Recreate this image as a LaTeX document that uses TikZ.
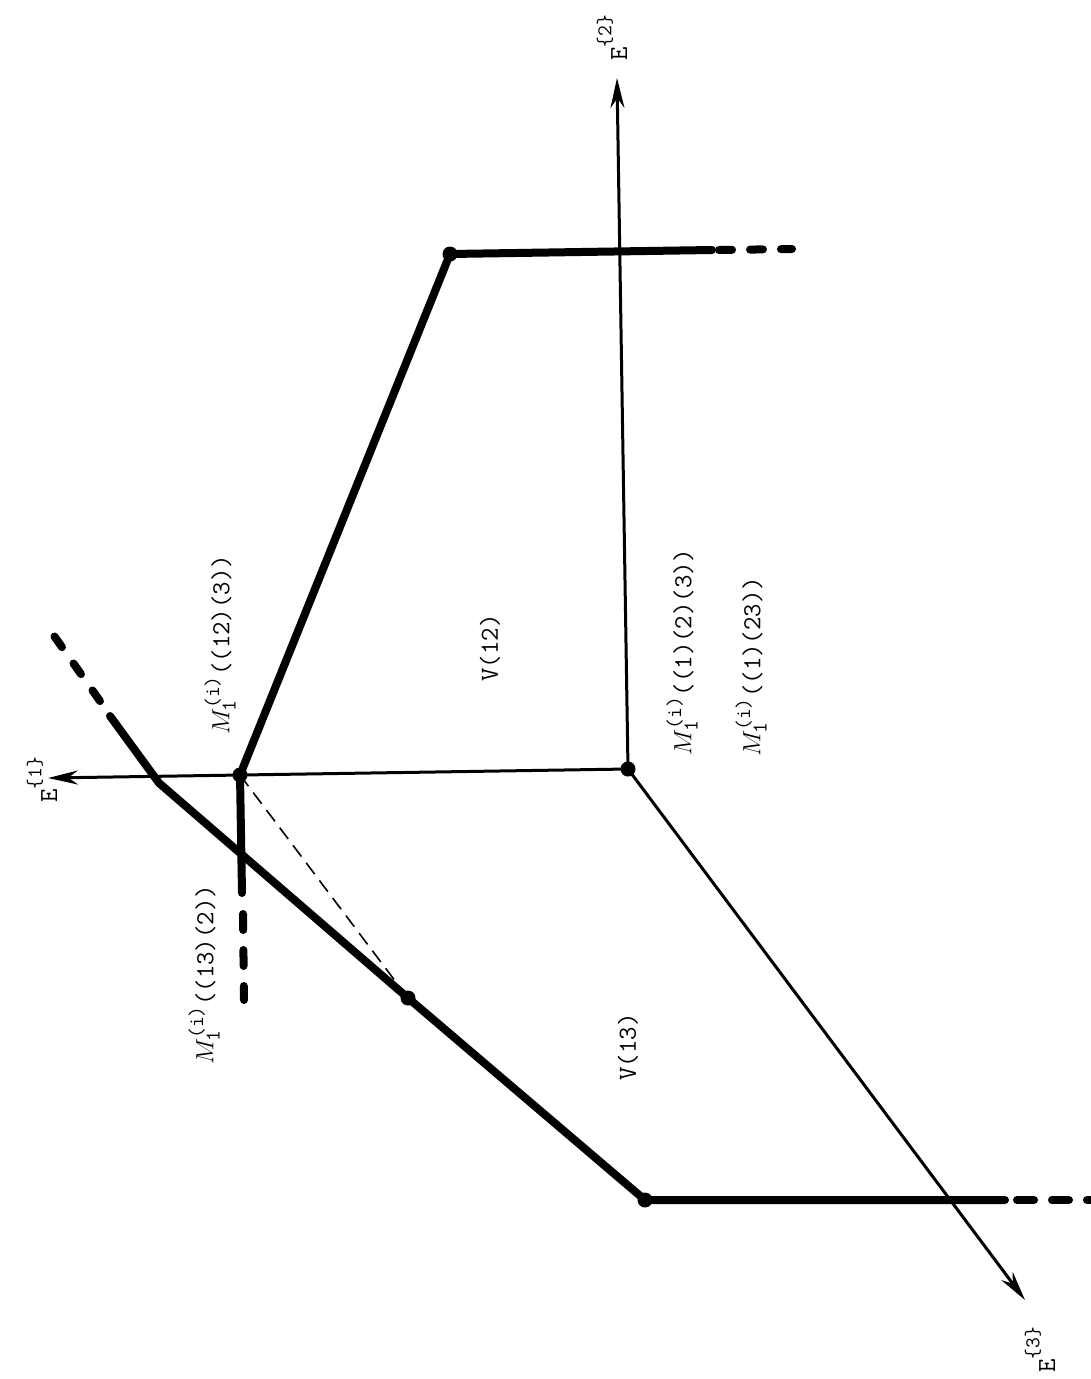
\documentclass[tikz,border=0pt]{standalone}
\usetikzlibrary{arrows.meta}
\newcommand{\supsz}[1]{\hbox{\fontsize{21}{23}\selectfont\ttfamily #1}}
\newcommand{\Mi}{$M_{\supsz{1}}^{\supsz{(i)}}$}
\newcommand{\Elab}[1]{E\raisebox{0.6em}{\fontsize{21}{23}\selectfont\{#1\}}}
\begin{document}
\begin{tikzpicture}[x=1pt,y=-1pt,
  axis/.style={line width=3pt,-{Stealth[length=30pt,width=14pt]}},
  thickl/.style={line width=8pt,line cap=round,line join=round},
  dashl/.style={line width=8pt,line cap=round,dash pattern=on 13pt off 18pt},
  thindash/.style={line width=1.6pt,dash pattern=on 14pt off 8pt},
  dot/.style={circle,fill,inner sep=0pt,minimum size=15pt},
  lab/.style={rotate=90,inner sep=0pt,font=\fontsize{26}{30}\selectfont\ttfamily}]
\useasboundingbox (0,0) rectangle (1090,1379);
% points
\node[dot] (O) at (628,769) {};
\node[dot] (A) at (240,775) {};
\node[dot] (B) at (450,254) {};
\node[dot] (C) at (408,998) {};
\node[dot] (D) at (645,1200) {};
\coordinate (E1) at (48,778);
\coordinate (E2) at (617,78);
\coordinate (E3) at (1025,1300);
\coordinate (K) at (159,783);
% axes
\draw[axis] (O.center) -- (E1);
\draw[axis] (O.center) -- (E2);
\draw[axis] (O.center) -- (E3);
% thick polylines
\coordinate (B1) at (712,250);
\coordinate (B2) at (792,249);
\draw[thickl] (A.center) -- (B.center) -- (B1);
\draw[dashl] (719,250) -- (B2);
\coordinate (A1) at (242,893);
\draw[thickl] (A.center) -- (A1);
\draw[dashl,dash pattern=on 16pt off 20pt] (243,914) -- (244,1000);
\coordinate (U1) at (110,716);
\coordinate (D1) at (1005,1200);
\draw[thickl] (U1) -- (K) -- (C.center) -- (D.center) -- (D1);
\draw[dashl,dash pattern=on 13pt off 20pt] (54.5,636.5) -- (107,711);
\draw[dashl,dash pattern=on 17pt off 18pt] (1017,1200) -- (1095,1200);
% thin dashed
\draw[thindash] (A.center) -- (C.center);
% labels
\node[lab] (l1) at (42,780) {\Elab{1}};
\node[lab] (l2) at (612,38) {\Elab{2}};
\node[lab] (l3) at (1040,1350) {\Elab{3}};
\node[lab] (m123) at (220,645) {\Mi((12)(3))};
\node[lab] (m1p2p3) at (682,652) {\Mi((1)(2)(3))};
\node[lab] (m1p23) at (751,667) {\Mi((1)(23))};
\node[lab] (m132) at (204,975) {\Mi((13)(2))};
\node[lab] (v12) at (490,648) {V(12)};
\node[lab] (v13) at (628,1047) {V(13)};
\end{tikzpicture}
\end{document}
